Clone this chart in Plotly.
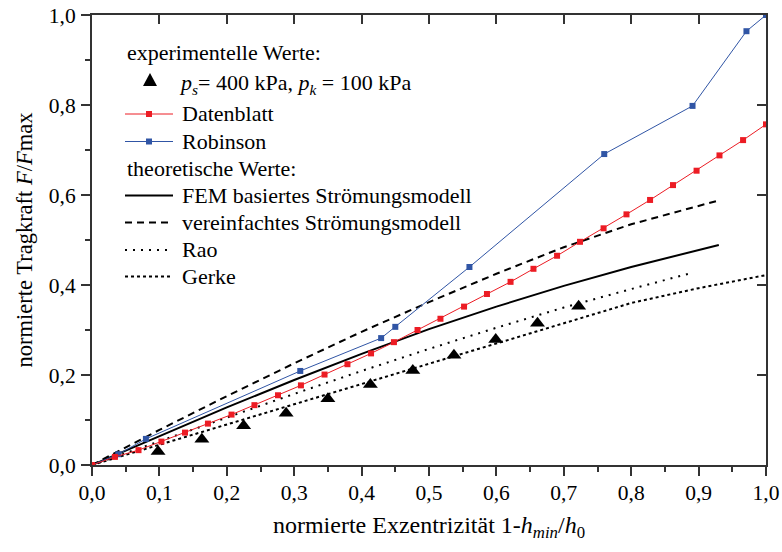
import plotly.graph_objects as go

# experimental values
exp_x = [0.098, 0.163, 0.225, 0.288, 0.350, 0.413, 0.476, 0.537, 0.599, 0.661, 0.722]
exp_y = [0.030, 0.057, 0.087, 0.115, 0.147, 0.179, 0.210, 0.244, 0.279, 0.315, 0.353]

# data sheet curve
datenblatt_x = [0.0, 0.034, 0.069, 0.103, 0.138, 0.172, 0.207, 0.241, 0.276, 0.310, 0.345,
                0.379, 0.414, 0.448, 0.483, 0.517, 0.552, 0.586, 0.621, 0.655, 0.690,
                0.724, 0.759, 0.793, 0.828, 0.862, 0.897, 0.931, 0.966, 1.000]
datenblatt_y = [0.0, 0.018, 0.033, 0.052, 0.072, 0.092, 0.112, 0.133, 0.155, 0.177, 0.201,
                0.224, 0.248, 0.273, 0.300, 0.325, 0.352, 0.380, 0.407, 0.436, 0.465,
                0.496, 0.526, 0.557, 0.589, 0.622, 0.654, 0.688, 0.722, 0.757]

# Robinson
robinson_x = [0.0, 0.039, 0.080, 0.309, 0.429, 0.450, 0.560, 0.760, 0.891, 0.971, 1.000]
robinson_y = [0.0, 0.024, 0.058, 0.209, 0.282, 0.307, 0.440, 0.691, 0.798, 0.964, 1.000]

# theoretical models
fem_x = [0.0, 0.05, 0.1, 0.2, 0.3, 0.4, 0.5, 0.6, 0.7, 0.8, 0.93]
fem_y = [0.0, 0.032, 0.064, 0.128, 0.189, 0.247, 0.302, 0.352, 0.398, 0.440, 0.489]

simple_x = [0.0, 0.1, 0.2, 0.3, 0.4, 0.5, 0.6, 0.7, 0.8, 0.93]
simple_y = [0.0, 0.078, 0.153, 0.226, 0.296, 0.362, 0.425, 0.484, 0.535, 0.588]

rao_x = [0.0, 0.1, 0.2, 0.3, 0.4, 0.5, 0.6, 0.7, 0.8, 0.89]
rao_y = [0.0, 0.053, 0.106, 0.158, 0.209, 0.258, 0.305, 0.350, 0.391, 0.427]

gerke_x = [0.0, 0.1, 0.2, 0.3, 0.4, 0.5, 0.6, 0.7, 0.8, 0.9, 1.0]
gerke_y = [0.0, 0.045, 0.090, 0.135, 0.180, 0.225, 0.270, 0.315, 0.360, 0.393, 0.422]

FONT = "Liberation Serif"
RED = "#ec1c24"
BLUE = "#3055a5"
AXIS = "#333333"

W, H = 782, 552
ML, MR, MT, MB = 92, 16, 15, 87
PW, PH = W - ML - MR, H - MT - MB


def px_x(px):
    return (px - ML) / PW


def px_y(py):
    return (H - MB - py) / PH


fig = go.Figure()

LINE_STYLES = {
    "fem": dict(color="black", width=2),
    "simple": dict(color="black", width=2, dash="7px,5px"),
    "rao": dict(color="black", width=2, dash="2px,6px"),
    "gerke": dict(color="black", width=2, dash="3px,3px"),
}

fig.add_trace(go.Scatter(x=fem_x, y=fem_y, mode="lines", line=LINE_STYLES["fem"],
                         name="FEM basiertes Strömungsmodell"))
fig.add_trace(go.Scatter(x=simple_x, y=simple_y, mode="lines", line=LINE_STYLES["simple"],
                         name="vereinfachtes Strömungsmodell"))
fig.add_trace(go.Scatter(x=rao_x, y=rao_y, mode="lines", line=LINE_STYLES["rao"], name="Rao"))
fig.add_trace(go.Scatter(x=gerke_x, y=gerke_y, mode="lines", line=LINE_STYLES["gerke"], name="Gerke"))
fig.add_trace(go.Scatter(
    x=robinson_x, y=robinson_y, mode="lines+markers", name="Robinson",
    line=dict(color=BLUE, width=1), marker=dict(symbol="square", size=6, color=BLUE)))
fig.add_trace(go.Scatter(
    x=datenblatt_x, y=datenblatt_y, mode="lines+markers", name="Datenblatt",
    line=dict(color=RED, width=1), marker=dict(symbol="square", size=6, color=RED)))
fig.add_trace(go.Scatter(
    x=exp_x, y=exp_y, mode="markers", name="Experiment",
    marker=dict(symbol="triangle-up", size=13, color="black")))

# mirrored frame axes (top / right) with inward ticks
fig.add_trace(go.Scatter(x=[], y=[], xaxis="x2", yaxis="y2", showlegend=False))

# ---- hand-built legend (paper coordinates) ----
LEG_FONT = dict(family=FONT, size=22, color="black")
SAMPLE_X0, SAMPLE_X1, TEXT_X = 125, 173, 180
annotations = []
shapes = []


def legend_text(text, x_px, y_px):
    annotations.append(dict(
        text=text, x=px_x(x_px), y=px_y(y_px), xref="paper", yref="paper",
        xanchor="left", yanchor="middle", showarrow=False, font=LEG_FONT))


def legend_line(y_px, line):
    shapes.append(dict(type="line", xref="paper", yref="paper",
                       x0=px_x(SAMPLE_X0), x1=px_x(SAMPLE_X1), y0=px_y(y_px), y1=px_y(y_px),
                       line=line))


def legend_square(y_px, color, s=3):
    cx = (SAMPLE_X0 + SAMPLE_X1) / 2
    shapes.append(dict(type="rect", xref="paper", yref="paper",
                       x0=px_x(cx - s), x1=px_x(cx + s), y0=px_y(y_px - s), y1=px_y(y_px + s),
                       fillcolor=color, line=dict(width=0)))


legend_text("experimentelle Werte:", SAMPLE_X0, 53)

# triangle sample
cx, cy = 150, 80
tri = "M {:.5f},{:.5f} L {:.5f},{:.5f} L {:.5f},{:.5f} Z".format(
    px_x(cx - 7), px_y(cy + 6), px_x(cx + 7), px_y(cy + 6), px_x(cx), px_y(cy - 7))
shapes.append(dict(type="path", xref="paper", yref="paper", path=tri,
                   fillcolor="black", line=dict(width=0)))
legend_text("<i>p</i><sub><i>s</i></sub>= 400 kPa, <i>p</i><sub><i>k</i></sub> = 100 kPa",
            TEXT_X - 3, 84)

legend_line(114, dict(color=RED, width=1))
legend_square(114, RED)
legend_text("Datenblatt", TEXT_X, 114)

legend_line(141.5, dict(color=BLUE, width=1))
legend_square(141.5, BLUE)
legend_text("Robinson", TEXT_X, 141.5)

legend_text("theoretische Werte:", SAMPLE_X0, 168.5)

for yp, key, label in [(195.5, "fem", "FEM basiertes Strömungsmodell"),
                       (222.5, "simple", "vereinfachtes Strömungsmodell"),
                       (250, "rao", "Rao"),
                       (276.5, "gerke", "Gerke")]:
    legend_line(yp, LINE_STYLES[key])
    legend_text(label, TEXT_X, yp)

tick_font = dict(family=FONT, size=21.5, color="black")

fig.update_layout(
    width=W, height=H,
    margin=dict(l=ML, r=MR, t=MT, b=MB, autoexpand=False),
    plot_bgcolor="white", paper_bgcolor="white",
    separators=",.",
    font=dict(family=FONT, color="black"),
    showlegend=False,
    annotations=annotations,
    shapes=shapes,
    xaxis=dict(
        range=[0, 1], dtick=0.1, tick0=0, tickformat=".1f", automargin=False,
        ticks="outside", ticklen=9, tickwidth=1.5, tickcolor=AXIS,
        minor=dict(ticks="outside", ticklen=5, tickwidth=1.5, tickcolor=AXIS, dtick=0.05),
        showline=True, linecolor=AXIS, linewidth=2, ticklabelstandoff=-2,
        showgrid=False, zeroline=False, tickfont=tick_font,
        title=dict(text="normierte Exzentrizität 1-<i>h</i><sub><i>min</i></sub>/<i>h</i><sub>0</sub>",
                   font=dict(family=FONT, size=24, color="black"), standoff=12),
    ),
    yaxis=dict(
        range=[0, 1], dtick=0.2, tick0=0, tickformat=".1f", automargin=False,
        ticks="outside", ticklen=9, tickwidth=1.5, tickcolor=AXIS,
        minor=dict(ticks="outside", ticklen=5, tickwidth=1.5, tickcolor=AXIS, dtick=0.1),
        showline=True, linecolor=AXIS, linewidth=2, ticklabelstandoff=1,
        showgrid=False, zeroline=False, tickfont=tick_font,
        title=dict(text="normierte Tragkraft <i>F</i>/<i>F</i>max",
                   font=dict(family=FONT, size=22.5, color="black"), standoff=10),
    ),
    xaxis2=dict(
        overlaying="x", side="top", range=[0, 1], dtick=0.1, tick0=0, automargin=False,
        ticks="inside", ticklen=9, tickwidth=1.5, tickcolor=AXIS,
        showticklabels=False, showline=True, linecolor=AXIS, linewidth=2,
        showgrid=False, zeroline=False,
    ),
    yaxis2=dict(
        overlaying="y", side="right", range=[0, 1], dtick=0.2, tick0=0, automargin=False,
        ticks="inside", ticklen=9, tickwidth=1.5, tickcolor=AXIS,
        showticklabels=False, showline=True, linecolor=AXIS, linewidth=2,
        showgrid=False, zeroline=False,
    ),
)

fig.write_html("out.html")
